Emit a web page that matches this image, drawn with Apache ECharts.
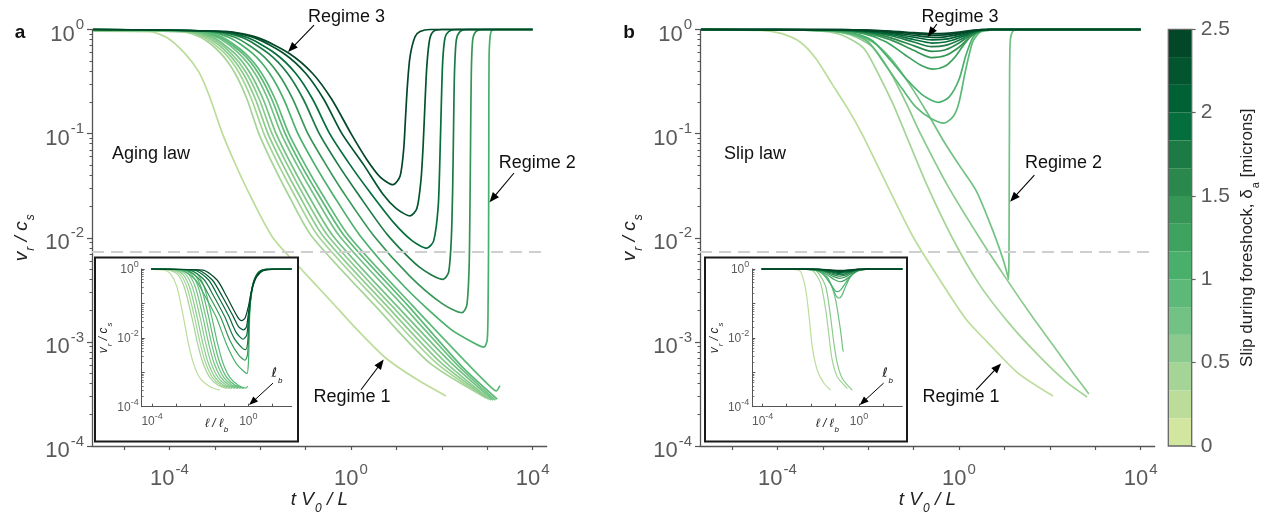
<!DOCTYPE html>
<html><head><meta charset="utf-8">
<script src="https://cdn.jsdelivr.net/npm/echarts@6/dist/echarts.min.js"></script>
<style>html,body{margin:0;padding:0;background:#fff}#c{width:1268px;height:516px}</style>
</head><body><div id="c"></div>
<script>
// ---------------- data (log10 units) ----------------
const mainXRange = [-5.705, 4.31];      // log10(t V0 / L)
const mainYRange = [-4, 0];             // log10(v_r / c_s)
const insetXRange = [-4.43, 1.8];       // log10(l / l_b)
const insetYRange = [-4, 0];
const mainXTicks = [-5, -4, -3, -2, -1, 0, 1, 2, 3, 4];
const mainXLabels = [-4, 0, 4];
const mainYTicks = [-4, -3, -2, -1, 0];
const insetXTicks = [-4, -3, -2, -1, 0, 1];
const insetXLabels = [-4, 0];
const insetYLabels = [-4, -2, 0];
const criticalRatio = 0.0074;           // dashed horizontal line
const colorbarTicks = [0, 0.5, 1, 1.5, 2, 2.5];
const colorbarEdges = [0, 0.1667, 0.3333, 0.5, 0.6667, 0.8333, 1, 1.1667, 1.3333, 1.5, 1.6667, 1.8333, 2, 2.1667, 2.3333, 2.5];
const colorbarColors = ['#d3e6a0','#bcdd9a','#a4d496','#8acb8d','#72c283','#5cb977','#49b06b','#3ea35f','#359655','#2b884d','#1c7b45','#046e3c','#006134','#02552e','#034729'];

const agingDelta = [0.2, 0.35, 0.45, 0.55, 0.62, 0.72, 0.8, 0.88, 0.95, 1.1, 1.45, 1.75, 1.95, 2.2, 2.42];
const slipDelta  = [0.2, 0.4, 0.55, 0.75, 0.9, 1.05, 1.2, 1.4, 1.55, 1.75, 1.95, 2.1, 2.25, 2.35, 2.45];

const agingMain = [
 [[-5.68,-0.015],[-4.43,-0.02],[-4.05,-0.08],[-3.66,-0.23],[-3.35,-0.41],[-3.11,-0.65],[-2.84,-0.99],[-2.56,-1.28],[-2.25,-1.57],[-1.72,-2.0],[-1.08,-2.31],[-0.46,-2.6],[0.15,-2.89],[0.75,-3.15],[1.41,-3.35],[2.09,-3.52]],
 [[-5.68,-0.01],[-3.71,-0.02],[-3.29,-0.08],[-2.87,-0.23],[-2.555,-0.42],[-2.29,-0.67],[-2.03,-1.0],[-1.715,-1.3],[-1.4,-1.57],[-0.875,-1.98],[0.525,-2.65],[1.725,-3.2],[2.9,-3.52]],
 [[-5.68,-0.01],[-3.65,-0.02],[-3.22,-0.08],[-2.78,-0.23],[-2.46,-0.42],[-2.19,-0.67],[-1.92,-1.0],[-1.596,-1.3],[-1.27,-1.57],[-0.73,-1.98],[0.67,-2.65],[1.87,-3.2],[2.97,-3.54]],
 [[-5.68,-0.01],[-3.59,-0.02],[-3.15,-0.08],[-2.71,-0.23],[-2.38,-0.42],[-2.105,-0.67],[-1.83,-1.0],[-1.5,-1.3],[-1.17,-1.57],[-0.62,-1.98],[0.78,-2.65],[1.98,-3.2],[3.03,-3.55]],
 [[-5.68,-0.01],[-3.53,-0.02],[-3.08,-0.08],[-2.64,-0.23],[-2.3,-0.42],[-2.02,-0.67],[-1.74,-1.0],[-1.4,-1.3],[-1.07,-1.57],[-0.51,-1.98],[0.89,-2.65],[2.09,-3.2],[3.08,-3.56]],
 [[-5.68,-0.005],[-3.47,-0.02],[-3.02,-0.08],[-2.56,-0.23],[-2.22,-0.42],[-1.935,-0.67],[-1.65,-1.0],[-1.31,-1.3],[-0.97,-1.57],[-0.4,-1.98],[1.0,-2.65],[2.2,-3.2],[3.13,-3.56]],
 [[-5.68,-0.005],[-3.4,-0.02],[-2.93,-0.08],[-2.47,-0.23],[-2.12,-0.42],[-1.83,-0.67],[-1.54,-1.0],[-1.19,-1.3],[-0.84,-1.57],[-0.26,-1.98],[1.14,-2.65],[2.34,-3.22],[3.18,-3.56]],
 [[-5.68,-0.005],[-3.34,-0.02],[-2.87,-0.08],[-2.39,-0.23],[-2.04,-0.42],[-1.745,-0.67],[-1.45,-1.0],[-1.1,-1.3],[-0.74,-1.57],[-0.15,-1.98],[1.25,-2.65],[2.45,-3.24],[3.22,-3.55]],
 [[-5.68,0],[-3.29,-0.02],[-2.81,-0.08],[-2.33,-0.23],[-1.97,-0.42],[-1.67,-0.67],[-1.37,-1.0],[-1.01,-1.3],[-0.65,-1.57],[-0.05,-1.98],[1.35,-2.65],[2.5,-3.18],[3.0,-3.4],[3.2,-3.47],[3.28,-3.42]],
 [[-5.68,0],[-3.17,-0.02],[-2.67,-0.08],[-2.17,-0.23],[-1.795,-0.42],[-1.48,-0.67],[-1.17,-1.0],[-0.795,-1.3],[-0.42,-1.57],[0.2,-1.98],[1.2,-2.48],[2.2,-2.88],[2.75,-3.02],[2.93,-3.05],[3.0,-2.98],[3.02,-2.6],[3.03,-2.0],[3.035,-1.0],[3.04,-0.3],[3.06,-0.08],[3.1,-0.01],[3.2,0],[4.0,0]],
 [[-5.68,0],[-3.06,-0.02],[-2.53,-0.08],[-2.0,-0.23],[-1.61,-0.42],[-1.28,-0.67],[-0.95,-1.0],[-0.55,-1.3],[-0.16,-1.57],[0.5,-1.98],[1.3,-2.37],[2.0,-2.63],[2.445,-2.72],[2.55,-2.65],[2.6,-2.3],[2.62,-1.7],[2.635,-1.0],[2.65,-0.4],[2.68,-0.1],[2.75,-0.02],[2.9,0],[4.0,0]],
 [[-5.68,0],[-2.94,-0.02],[-2.38,-0.08],[-1.82,-0.23],[-1.4,-0.42],[-1.05,-0.67],[-0.7,-1.0],[-0.28,-1.3],[0.14,-1.57],[0.8,-1.97],[1.5,-2.28],[2.03,-2.4],[2.15,-2.33],[2.21,-2.0],[2.24,-1.5],[2.26,-0.9],[2.28,-0.4],[2.32,-0.1],[2.4,-0.02],[2.55,0],[4.0,0]],
 [[-5.68,0],[-2.87,-0.02],[-2.27,-0.08],[-1.67,-0.23],[-1.22,-0.42],[-0.845,-0.67],[-0.47,-1.0],[-0.02,-1.3],[0.43,-1.57],[0.95,-1.86],[1.35,-2.03],[1.67,-2.1],[1.82,-2.03],[1.92,-1.7],[1.96,-1.2],[1.99,-0.7],[2.02,-0.3],[2.07,-0.08],[2.15,-0.02],[2.3,0],[4.0,0]],
 [[-5.68,0],[-2.76,-0.02],[-2.12,-0.08],[-1.48,-0.23],[-1.0,-0.42],[-0.6,-0.67],[-0.2,-1.0],[0.28,-1.3],[0.7,-1.58],[1.0,-1.72],[1.3,-1.79],[1.45,-1.72],[1.54,-1.45],[1.59,-1.1],[1.63,-0.7],[1.67,-0.35],[1.73,-0.1],[1.81,-0.02],[2.0,0],[4.0,0]],
 [[-5.68,0],[-2.72,-0.02],[-2.04,-0.08],[-1.36,-0.23],[-0.85,-0.42],[-0.425,-0.67],[0.0,-1.0],[0.35,-1.25],[0.65,-1.42],[0.925,-1.49],[1.08,-1.41],[1.16,-1.15],[1.2,-0.85],[1.24,-0.55],[1.3,-0.26],[1.41,-0.07],[1.52,-0.02],[1.74,0],[4.0,0]]
];

const slipMain = [
 [[-5.68,-0.005],[-4.3,-0.01],[-3.9,-0.04],[-3.5,-0.12],[-3.15,-0.28],[-2.8,-0.52],[-2.45,-0.76],[-2.14,-1.0],[-1.6,-1.48],[-1.0,-2.0],[-0.4,-2.42],[0.15,-2.78],[0.62,-3.0],[1.3,-3.3],[2.07,-3.52]],
 [[-5.68,0],[-3.2,-0.01],[-2.6,-0.05],[-2.1,-0.18],[-1.75,-0.45],[-1.45,-0.72],[-1.18,-1.0],[-0.7,-1.5],[-0.15,-2.0],[0.45,-2.45],[1.1,-2.82],[1.75,-3.13],[2.35,-3.38],[2.82,-3.53]],
 [[-5.68,0],[-3.0,-0.01],[-2.4,-0.05],[-1.9,-0.17],[-1.5,-0.42],[-1.15,-0.72],[-0.85,-1.0],[-0.25,-1.5],[0.45,-2.0],[1.05,-2.4],[1.6,-2.75],[2.1,-3.05],[2.55,-3.32],[2.86,-3.5]],
 [[-5.68,0],[-3.0,-0.01],[-2.4,-0.04],[-1.9,-0.12],[-1.5,-0.28],[-1.1,-0.52],[-0.7,-0.8],[-0.3,-1.1],[0.0,-1.3],[0.38,-1.55],[0.77,-1.96],[0.98,-2.22],[1.07,-2.36],[1.09,-2.4],[1.1,-2.2],[1.105,-1.6],[1.11,-1.0],[1.115,-0.4],[1.13,-0.1],[1.18,-0.02],[1.28,0],[4.0,0]],
 [[-5.68,0],[-3.0,-0.01],[-2.4,-0.04],[-2.0,-0.12],[-1.59,-0.36],[-1.25,-0.57],[-0.96,-0.74],[-0.6,-0.86],[-0.33,-0.9],[-0.12,-0.83],[0.0,-0.7],[0.14,-0.4],[0.3,-0.12],[0.45,-0.03],[0.62,-0.01],[0.8,0],[4.0,0]],
 [[-5.68,0],[-2.9,-0.01],[-2.3,-0.04],[-1.9,-0.11],[-1.5,-0.3],[-1.15,-0.48],[-0.8,-0.63],[-0.45,-0.7],[-0.22,-0.65],[0.0,-0.48],[0.15,-0.25],[0.3,-0.08],[0.45,-0.02],[0.65,0],[4.0,0]],
 [[-5.68,0],[-2.7,-0.01],[-2.1,-0.04],[-1.6,-0.12],[-1.2,-0.24],[-0.85,-0.34],[-0.57,-0.38],[-0.3,-0.35],[-0.1,-0.27],[0.1,-0.15],[0.3,-0.05],[0.5,-0.01],[0.7,0],[4.0,0]],
 [[-5.68,0],[-2.6,-0.01],[-2.0,-0.04],[-1.5,-0.1],[-1.0,-0.2],[-0.6,-0.27],[-0.3,-0.25],[0.0,-0.17],[0.25,-0.07],[0.5,-0.01],[0.7,0],[4.0,0]],
 [[-5.68,0],[-2.6,-0.008],[-2.0,-0.03],[-1.5,-0.08],[-1.0,-0.155],[-0.6,-0.21],[-0.3,-0.195],[0.0,-0.13],[0.25,-0.055],[0.5,-0.008],[0.7,0],[4.0,0]],
 [[-5.68,0],[-2.6,-0.006],[-2.0,-0.025],[-1.5,-0.06],[-1.0,-0.12],[-0.6,-0.165],[-0.3,-0.153],[0.0,-0.104],[0.25,-0.043],[0.5,-0.007],[0.7,0],[4.0,0]],
 [[-5.68,0],[-2.6,-0.005],[-2.0,-0.02],[-1.5,-0.048],[-1.0,-0.096],[-0.6,-0.13],[-0.3,-0.12],[0.0,-0.082],[0.25,-0.034],[0.5,-0.005],[0.7,0],[4.0,0]],
 [[-5.68,0],[-2.6,-0.004],[-2.0,-0.015],[-1.5,-0.037],[-1.0,-0.074],[-0.6,-0.1],[-0.3,-0.093],[0.0,-0.063],[0.25,-0.026],[0.5,-0.004],[0.7,0],[4.0,0]],
 [[-5.68,0],[-2.6,-0.003],[-2.0,-0.011],[-1.5,-0.028],[-1.0,-0.055],[-0.6,-0.075],[-0.3,-0.07],[0.0,-0.047],[0.25,-0.02],[0.5,-0.003],[0.7,0],[4.0,0]],
 [[-5.68,0],[-2.6,-0.002],[-2.0,-0.008],[-1.5,-0.02],[-1.0,-0.04],[-0.6,-0.055],[-0.3,-0.051],[0.0,-0.035],[0.25,-0.014],[0.5,-0.002],[0.7,0],[4.0,0]],
 [[-5.68,0],[-2.6,-0.0015],[-2.0,-0.006],[-1.5,-0.015],[-1.0,-0.03],[-0.6,-0.04],[-0.3,-0.037],[0.0,-0.025],[0.25,-0.01],[0.5,-0.0015],[0.7,0],[4.0,0]]
];

const agingInset = [
 [[-4.04,-0.01],[-3.5,-0.03],[-3.25,-0.13],[-2.97,-0.51],[-2.7,-1.39],[-2.49,-2.16],[-2.28,-2.74],[-2.0,-3.18],[-1.59,-3.42],[-1.18,-3.52]],
 [[-4.04,0],[-3.35,-0.03],[-2.95,-0.15],[-2.65,-0.55],[-2.35,-1.39],[-2.13,-2.1],[-1.9,-2.7],[-1.6,-3.15],[-1.25,-3.38],[-0.9,-3.47]],
 [[-4.04,0],[-3.24,-0.03],[-2.84,-0.15],[-2.54,-0.55],[-2.24,-1.39],[-2.02,-2.1],[-1.79,-2.7],[-1.49,-3.15],[-1.14,-3.38],[-0.79,-3.47]],
 [[-4.04,0],[-3.13,-0.03],[-2.73,-0.15],[-2.43,-0.55],[-2.13,-1.39],[-1.91,-2.1],[-1.68,-2.7],[-1.38,-3.15],[-1.03,-3.38],[-0.68,-3.47]],
 [[-4.04,0],[-3.01,-0.03],[-2.61,-0.15],[-2.31,-0.55],[-2.01,-1.39],[-1.79,-2.1],[-1.56,-2.7],[-1.26,-3.15],[-0.91,-3.38],[-0.56,-3.47]],
 [[-4.04,0],[-2.89,-0.03],[-2.49,-0.15],[-2.19,-0.55],[-1.89,-1.39],[-1.67,-2.1],[-1.44,-2.7],[-1.14,-3.15],[-0.79,-3.38],[-0.44,-3.47]],
 [[-4.04,0],[-2.77,-0.03],[-2.37,-0.15],[-2.07,-0.55],[-1.77,-1.39],[-1.55,-2.1],[-1.32,-2.7],[-1.02,-3.15],[-0.67,-3.38],[-0.32,-3.47]],
 [[-4.04,0],[-2.65,-0.03],[-2.25,-0.15],[-1.95,-0.55],[-1.65,-1.39],[-1.43,-2.1],[-1.2,-2.7],[-0.9,-3.15],[-0.55,-3.38],[-0.2,-3.47]],
 [[-4.04,0],[-2.52,-0.03],[-2.12,-0.15],[-1.82,-0.55],[-1.52,-1.39],[-1.3,-2.1],[-1.07,-2.7],[-0.77,-3.15],[-0.42,-3.38],[-0.1,-3.46],[-0.02,-3.4]],
 [[-4.04,0],[-2.79,-0.03],[-2.19,-0.32],[-1.79,-0.8],[-1.34,-1.39],[-0.9,-2.2],[-0.5,-2.75],[-0.15,-3.0],[-0.05,-3.03],[0.0,-2.75],[0.03,-2.1],[0.06,-1.3],[0.15,-0.55],[0.38,-0.12],[0.68,-0.01],[1.2,0],[1.8,0]],
 [[-4.04,0],[-2.61,-0.03],[-2.01,-0.32],[-1.61,-0.8],[-1.16,-1.39],[-0.75,-2.1],[-0.4,-2.5],[-0.14,-2.65],[-0.04,-2.5],[0.01,-2.0],[0.05,-1.2],[0.16,-0.52],[0.4,-0.11],[0.7,-0.01],[1.2,0],[1.8,0]],
 [[-4.04,0],[-2.43,-0.03],[-1.83,-0.32],[-1.43,-0.8],[-0.98,-1.39],[-0.6,-2.0],[-0.25,-2.3],[-0.12,-2.34],[-0.04,-2.2],[0.01,-1.7],[0.07,-1.05],[0.2,-0.45],[0.42,-0.1],[0.72,-0.01],[1.2,0],[1.8,0]],
 [[-4.04,0],[-2.25,-0.03],[-1.65,-0.32],[-1.25,-0.8],[-0.8,-1.39],[-0.5,-1.85],[-0.22,-2.04],[-0.07,-1.92],[0.0,-1.5],[0.08,-0.95],[0.22,-0.4],[0.45,-0.09],[0.75,-0.01],[1.2,0],[1.8,0]],
 [[-4.04,0],[-2.1,-0.03],[-1.5,-0.32],[-1.08,-0.8],[-0.62,-1.39],[-0.4,-1.68],[-0.2,-1.77],[-0.08,-1.68],[0.0,-1.3],[0.1,-0.75],[0.26,-0.3],[0.5,-0.07],[0.8,-0.01],[1.2,0],[1.8,0]],
 [[-4.04,0],[-1.9,-0.03],[-1.3,-0.32],[-0.9,-0.8],[-0.45,-1.39],[-0.28,-1.5],[-0.14,-1.43],[0.0,-1.09],[0.14,-0.61],[0.35,-0.22],[0.62,-0.05],[1.04,-0.01],[1.8,0]]
];

const slipInset = [
 [[-4.04,-0.005],[-2.7,-0.01],[-2.42,-0.08],[-2.21,-0.61],[-2.07,-1.39],[-1.94,-2.26],[-1.73,-2.94],[-1.45,-3.32],[-1.18,-3.52]],
 [[-4.04,0],[-2.2,-0.01],[-1.87,-0.08],[-1.59,-0.42],[-1.38,-1.19],[-1.24,-1.97],[-1.11,-2.65],[-0.9,-3.13],[-0.48,-3.47]],
 [[-4.04,0],[-2.05,-0.01],[-1.73,-0.08],[-1.38,-0.51],[-1.18,-1.39],[-1.04,-2.16],[-0.9,-2.74],[-0.69,-3.18],[-0.28,-3.52]],
 [[-4.04,0],[-1.9,-0.01],[-1.59,-0.08],[-1.18,-0.42],[-0.97,-0.9],[-0.83,-1.48],[-0.73,-1.97],[-0.68,-2.3],[-0.65,-2.4]],
 [[-4.04,0],[-2.0,-0.01],[-1.6,-0.06],[-1.3,-0.25],[-1.1,-0.55],[-0.95,-0.78],[-0.83,-0.85],[-0.72,-0.78],[-0.55,-0.5],[-0.35,-0.22],[-0.1,-0.06],[0.2,-0.01],[0.5,0],[1.8,0]],
 [[-4.04,0],[-2.1,-0.01],[-1.7,-0.06],[-1.4,-0.22],[-1.15,-0.47],[-1.0,-0.62],[-0.9,-0.66],[-0.75,-0.6],[-0.55,-0.4],[-0.3,-0.17],[-0.05,-0.05],[0.25,-0.01],[0.5,0],[1.8,0]],
 [[-4.04,0],[-2.2,-0.01],[-1.7,-0.05],[-1.35,-0.15],[-1.05,-0.3],[-0.8,-0.37],[-0.6,-0.33],[-0.35,-0.2],[-0.05,-0.06],[0.3,-0.01],[0.55,0],[1.8,0]],
 [[-4.04,0],[-2.2,-0.007],[-1.7,-0.036],[-1.35,-0.11],[-1.05,-0.22],[-0.8,-0.27],[-0.6,-0.24],[-0.35,-0.146],[-0.05,-0.043],[0.3,-0.007],[0.55,0],[1.8,0]],
 [[-4.04,0],[-2.2,-0.006],[-1.7,-0.028],[-1.35,-0.085],[-1.05,-0.17],[-0.8,-0.21],[-0.6,-0.187],[-0.35,-0.113],[-0.05,-0.034],[0.3,-0.006],[0.55,0],[1.8,0]],
 [[-4.04,0],[-2.2,-0.004],[-1.7,-0.022],[-1.35,-0.067],[-1.05,-0.134],[-0.8,-0.165],[-0.6,-0.147],[-0.35,-0.089],[-0.05,-0.026],[0.3,-0.004],[0.55,0],[1.8,0]],
 [[-4.04,0],[-2.2,-0.0035],[-1.7,-0.018],[-1.35,-0.053],[-1.05,-0.105],[-0.8,-0.13],[-0.6,-0.116],[-0.35,-0.07],[-0.05,-0.021],[0.3,-0.0035],[0.55,0],[1.8,0]],
 [[-4.04,0],[-2.2,-0.003],[-1.7,-0.0135],[-1.35,-0.04],[-1.05,-0.081],[-0.8,-0.1],[-0.6,-0.089],[-0.35,-0.054],[-0.05,-0.016],[0.3,-0.003],[0.55,0],[1.8,0]],
 [[-4.04,0],[-2.2,-0.002],[-1.7,-0.01],[-1.35,-0.03],[-1.05,-0.061],[-0.8,-0.075],[-0.6,-0.067],[-0.35,-0.04],[-0.05,-0.012],[0.3,-0.002],[0.55,0],[1.8,0]],
 [[-4.04,0],[-2.2,-0.0015],[-1.7,-0.0074],[-1.35,-0.022],[-1.05,-0.045],[-0.8,-0.055],[-0.6,-0.049],[-0.35,-0.03],[-0.05,-0.009],[0.3,-0.0015],[0.55,0],[1.8,0]],
 [[-4.04,0],[-2.2,-0.001],[-1.7,-0.0054],[-1.35,-0.016],[-1.05,-0.032],[-0.8,-0.04],[-0.6,-0.036],[-0.35,-0.022],[-0.05,-0.0064],[0.3,-0.001],[0.55,0],[1.8,0]]
];

// annotations (data coordinates of each panel)
const annotA = {
  texts: [['Regime 3',[-0.1,0.12]],['Regime 2',[4.1,-1.282]],['Regime 1',[0.022,-3.53]]],
  arrows: [[[-0.815,0.043],[-1.388,-0.216]],[[3.59,-1.378],[3.05,-1.66]],[[0.22,-3.46],[0.72,-3.17]]],
  law: ['Aging law',[-5.264,-1.196]]
};
const annotB = {
  texts: [['Regime 3',[0.022,0.123]],['Regime 2',[2.3,-1.282]],['Regime 1',[0.044,-3.527]]],
  arrows: [[[-0.489,0.053],[-0.687,-0.069]],[[1.66,-1.398],[1.125,-1.654]],[[0.377,-3.46],[0.927,-3.207]]],
  law: ['Slip law',[-5.176,-1.196]]
};
const insetAnnot = { text: [1.19,-3.08], arrow: [[1.025,-3.314],[0.03,-3.953]] };

// ---------------- layout ----------------
const FONT = '"Liberation Sans", Arial, sans-serif';
const LBL = '#5a5a5a';
const gMainA = {left:92, top:29.5, width:454.7, height:416.5};
const gMainB = {left:700, top:29.5, width:454.7, height:416.5};
const gInsA = {left:141.7, top:269, width:150, height:137.7};
const gInsB = {left:752.3, top:269, width:150, height:137.7};
const gCbar = {left:1168.3, top:29.3, width:23.4, height:416.7};
const insetBoxA = {x:95, y:257.5, width:203, height:184};
const insetBoxB = {x:705, y:257.5, width:202, height:184};

function minorLogTicks(lo, hi) {
  const out = [];
  for (let d = lo; d < hi; d++) for (let k = 2; k <= 9; k++) out.push(d + Math.log10(k));
  return out;
}
function colorFor(delta) {
  for (let i = 0; i < colorbarColors.length; i++) if (delta < colorbarEdges[i + 1]) return colorbarColors[i];
  return colorbarColors[colorbarColors.length - 1];
}
const expFmt = v => '{b|10}{s|' + Math.round(v) + '}';
const mainRich = {
  b:{fontSize:22, color:LBL, fontFamily:FONT, verticalAlign:'bottom', lineHeight:22},
  s:{fontSize:15, color:LBL, fontFamily:FONT, verticalAlign:'bottom', lineHeight:15, padding:[0,0,13,1]}
};
const insetRich = {
  b:{fontSize:12, color:LBL, fontFamily:FONT, verticalAlign:'bottom', lineHeight:12},
  s:{fontSize:9, color:LBL, fontFamily:FONT, verticalAlign:'bottom', lineHeight:9, padding:[0,0,7,0]}
};
function nameRich(fs, sub, color) {
  return {
    i:{fontSize:fs, fontStyle:'italic', fontFamily:FONT, color, lineHeight:fs+4, verticalAlign:'top'},
    n:{fontSize:fs, fontFamily:FONT, color, lineHeight:fs+4, verticalAlign:'top'},
    sub:{fontSize:sub, fontStyle:'italic', fontFamily:FONT, color, lineHeight:sub, verticalAlign:'top', padding:[Math.round(fs*0.68),0,0,1]}
  };
}
const axCol = '#555';

const xAxes = [], yAxes = [], grids = [gMainA, gMainB, gInsA, gInsB, Object.assign({}, gCbar)];
[0,1].forEach(g => {
  xAxes.push({type:'value', gridIndex:g, min:mainXRange[0], max:mainXRange[1],
    axisLine:{onZero:false, lineStyle:{color:axCol, width:1.3}}, splitLine:{show:false},
    axisTick:{customValues:mainXTicks, length:4, lineStyle:{color:axCol, width:1.2}},
    axisLabel:{customValues:mainXLabels, formatter:expFmt, rich:mainRich, margin:22},
    name:'{i|t V}{sub|0}{i| / L}', nameLocation:'middle', nameGap:44, nameMoveOverlap:false,
    nameTextStyle:{rich:nameRich(19,12,'#222')}});
  yAxes.push({type:'value', gridIndex:g, min:mainYRange[0], max:mainYRange[1], position:'left',
    axisLine:{onZero:false, lineStyle:{color:axCol, width:1.3}}, splitLine:{show:false},
    axisTick:{customValues:mainYTicks, length:5, lineStyle:{color:axCol, width:1.2}},
    axisLabel:{customValues:mainYTicks, formatter:expFmt, rich:mainRich, margin:8, padding:[10,0,0,0]},
    name:'{i|v}{sub|r}{i| / c}{sub|s}', nameLocation:'middle', nameGap:57, nameRotate:90, nameMoveOverlap:false,
    nameTextStyle:{rich:nameRich(19,12,'#222')}});
  yAxes.push({type:'value', gridIndex:g, min:mainYRange[0], max:mainYRange[1], position:'left',
    axisLine:{show:false, onZero:false}, splitLine:{show:false}, axisLabel:{show:false},
    axisTick:{customValues:minorLogTicks(-4,0), length:2.5, lineStyle:{color:axCol, width:1}}});
});
[2,3].forEach(g => {
  xAxes.push({type:'value', gridIndex:g, min:insetXRange[0], max:insetXRange[1], z:25,
    axisLine:{onZero:false, lineStyle:{color:axCol, width:1}}, splitLine:{show:false},
    axisTick:{customValues:insetXTicks, inside:true, length:3, lineStyle:{color:axCol, width:1}},
    axisLabel:{customValues:insetXLabels, formatter:expFmt, rich:insetRich, margin:9},
    name:'{i|\u2113 / \u2113}{sub|b}', nameLocation:'middle', nameGap:11, nameMoveOverlap:false,
    nameTextStyle:{rich:nameRich(12,8,'#222')}});
  yAxes.push({type:'value', gridIndex:g, min:insetYRange[0], max:insetYRange[1], position:'left', z:25,
    axisLine:{onZero:false, lineStyle:{color:axCol, width:1}}, splitLine:{show:false},
    axisTick:{customValues:[-4,-3,-2,-1,0], inside:true, length:3, lineStyle:{color:axCol, width:1}},
    axisLabel:{customValues:insetYLabels, formatter:expFmt, rich:insetRich, margin:3, padding:[2,0,0,0]},
    name:'{i|v}{sub|r}{i| / c}{sub|s}', nameLocation:'middle', nameGap:28, nameRotate:90, nameMoveOverlap:false,
    nameTextStyle:{rich:nameRich(12,8,'#222')}});
  yAxes.push({type:'value', gridIndex:g, min:insetYRange[0], max:insetYRange[1], position:'left', z:25,
    axisLine:{show:false, onZero:false}, splitLine:{show:false}, axisLabel:{show:false},
    axisTick:{customValues:minorLogTicks(-4,0), inside:true, length:2, lineStyle:{color:axCol, width:0.8}}});
});
// colorbar axes
xAxes.push({type:'category', gridIndex:4, data:['delta'], show:false});
yAxes.push({type:'value', gridIndex:4, position:'right', min:0, max:2.5, interval:0.5,
  axisLine:{show:false, onZero:false}, splitLine:{show:false},
  axisTick:{show:true, length:4, lineStyle:{color:'#666', width:1.2}},
  axisLabel:{fontSize:21, color:LBL, fontFamily:FONT, margin:9, formatter:v => String(v)},
  name:'{n|Slip during foreshock, \u03b4}{sb|a}{n| [microns]}', nameLocation:'middle', nameRotate:90, nameGap:47, nameMoveOverlap:false,
  nameTextStyle:{rich:{
    n:{fontSize:17, fontFamily:FONT, color:'#222', lineHeight:21, verticalAlign:'top'},
    sb:{fontSize:11, fontFamily:FONT, color:'#222', lineHeight:11, verticalAlign:'top', padding:[12,0,0,1]}}}});

const series = [];
function addCurves(curves, deltas, xi, yi, width, z, extra) {
  curves.forEach((d, i) => {
    const s = {type:'line', xAxisIndex:xi, yAxisIndex:yi, data:d, symbol:'none', showSymbol:false,
      smooth:0.25, clip:false, silent:true, z,
      lineStyle:{width, color:colorFor(deltas[i])}};
    if (i === 0 && extra) s.markLine = extra;
    series.push(s);
  });
}
const dashMain = {silent:true, symbol:'none', label:{show:false}, animation:false,
  lineStyle:{type:[12,7], color:'#cfcfcf', width:2}, data:[{yAxis:Math.log10(criticalRatio)}]};
const dashInset = {silent:true, symbol:'none', label:{show:false}, animation:false,
  lineStyle:{type:[5,4], color:'#cccccc', width:1.2}, data:[{xAxis:0}]};
// axis indices: x: 0 A,1 B,2 insA,3 insB,4 cbar ; y: 0 A,1 Aminor,2 B,3 Bminor,4 insA,5 insAmin,6 insB,7 insBmin,8 cbar
addCurves(agingMain, agingDelta, 0, 0, 1.7, 2, dashMain);
addCurves(slipMain, slipDelta, 1, 2, 1.7, 2, dashMain);
addCurves(agingInset, agingDelta, 2, 4, 1.2, 22, dashInset);
addCurves(slipInset, slipDelta, 3, 6, 1.2, 22, dashInset);
colorbarColors.forEach((c, i) => {
  series.push({type:'bar', xAxisIndex:4, yAxisIndex:8, stack:'cb', barWidth:'100%', silent:true,
    data:[colorbarEdges[i+1] - colorbarEdges[i]], itemStyle:{color:c}});
});

const chart = echarts.init(document.getElementById('c'), null, {renderer:'canvas'});
chart.setOption({
  animation:false,
  textStyle:{fontFamily:FONT},
  grid:grids.map(g => Object.assign({containLabel:false, outerBoundsMode:'none'}, g)),
  xAxis:xAxes, yAxis:yAxes, series
});

// ---------------- annotations (placed via axis conversion) ----------------
const graphic = [];
function P(xi, yi, pt) { return chart.convertToPixel({xAxisIndex:xi, yAxisIndex:yi}, pt); }
function arrow(p, q, hl, hw, lw) {
  const dx = q[0]-p[0], dy = q[1]-p[1], L = Math.hypot(dx, dy), ux = dx/L, uy = dy/L;
  const bx = q[0]-ux*hl, by = q[1]-uy*hl;
  graphic.push({type:'line', z:60, silent:true, shape:{x1:p[0], y1:p[1], x2:bx+ux*1, y2:by+uy*1}, style:{stroke:'#000', lineWidth:lw}});
  graphic.push({type:'polygon', z:60, silent:true, shape:{points:[[q[0],q[1]],[bx-uy*hw, by+ux*hw],[bx+uy*hw, by-ux*hw]]}, style:{fill:'#000'}});
}
function text(str, pos, size, align, weight) {
  graphic.push({type:'text', z:60, silent:true, x:pos[0], y:pos[1],
    style:{text:str, font:(weight||'normal') + ' ' + size + 'px ' + FONT, fill:'#111', align:align||'center', verticalAlign:'middle'}});
}
[insetBoxA, insetBoxB].forEach(b => graphic.push({type:'rect', z:10, silent:true, shape:b, style:{fill:'#fff', stroke:'#1a1a1a', lineWidth:2}}));
graphic.push({type:'rect', z:30, silent:true, shape:{x:gCbar.left, y:gCbar.top, width:gCbar.width, height:gCbar.height}, style:{fill:'none', stroke:'#666', lineWidth:1.3}});

[[annotA,0,0],[annotB,1,2]].forEach(([a, xi, yi]) => {
  a.texts.forEach(t => text(t[0], P(xi, yi, t[1]), 18));
  a.arrows.forEach(ar => arrow(P(xi, yi, ar[0]), P(xi, yi, ar[1]), 10, 4, 1.1));
  text(a.law[0], P(xi, yi, a.law[1]), 18, 'left');
});
[[2,4],[3,6]].forEach(([xi, yi]) => {
  const p = P(xi, yi, insetAnnot.text);
  graphic.push({type:'text', z:60, silent:true, x:p[0], y:p[1], style:{text:'{i|\u2113}{s|b}', align:'center', verticalAlign:'middle',
    rich:{i:{fontSize:13, fontStyle:'italic', fontFamily:'"DejaVu Sans", sans-serif', fill:'#111', lineHeight:15, verticalAlign:'top'},
          s:{fontSize:8, fontStyle:'italic', fontFamily:FONT, fill:'#111', lineHeight:8, verticalAlign:'top', padding:[9,0,0,1]}}}});
  arrow(P(xi, yi, insetAnnot.arrow[0]), P(xi, yi, insetAnnot.arrow[1]), 9, 3.5, 1);
});
text('a', [20, 33], 19, 'center', 'bold');
text('b', [629, 33], 19, 'center', 'bold');
chart.setOption({graphic});
</script></body></html>
